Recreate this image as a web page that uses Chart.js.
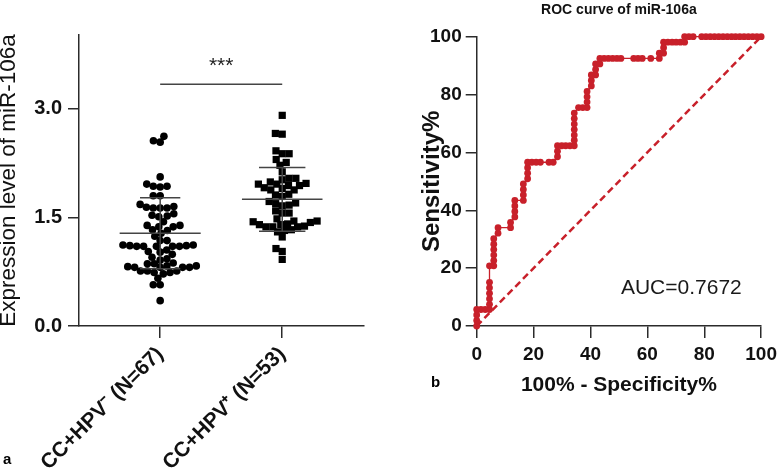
<!DOCTYPE html>
<html><head><meta charset="utf-8">
<script src="https://cdn.jsdelivr.net/npm/chart.js@4"></script>
<style>
html,body{margin:0;padding:0;background:#fff;}
#wrap{position:relative;width:782px;height:472px;overflow:hidden;background:#fff;}
#c1{position:absolute;left:0;top:0;}
#c2{position:absolute;left:390px;top:0;}
</style></head><body>
<div id="wrap">
<canvas id="c1" width="390" height="472"></canvas>
<canvas id="c2" width="392" height="472"></canvas>
</div>
<script>
// ---------- Data: panel a ----------
const groupLabels = ['CC+HPV\u207B (N=67)', 'CC+HPV\u207A (N=53)'];
const hpvNeg = [
  2.62, 2.54, 2.56,
  2.06,
  1.93, 1.92, 1.96, 1.93,
  1.80, 1.80,
  1.68, 1.63, 1.64, 1.63, 1.65, 1.63,
  1.51, 1.55, 1.53, 1.52,
  1.44, 1.39, 1.37, 1.37, 1.39,
  1.28, 1.24, 1.32, 1.33,
  1.10, 1.10, 1.11, 1.11, 1.12, 1.10, 1.10, 1.10, 1.18, 1.18, 1.12,
  1.05, 1.03, 1.02, 0.99,
  0.91, 0.87, 0.86, 0.86, 0.95, 0.93,
  0.81, 0.83, 0.83, 0.81, 0.81, 0.81, 0.82,
  0.72, 0.74, 0.76, 0.76, 0.76, 0.74,
  0.66, 0.57, 0.57,
  0.35
];
const hpvPos = [
  2.91,
  2.65, 2.66,
  2.38, 2.38, 2.42,
  2.30, 2.26, 2.22,
  2.13,
  2.04, 2.02, 2.04,
  1.97, 1.94, 1.96, 1.96, 1.99, 1.91, 1.94,
  1.88, 1.90, 1.88,
  1.79, 1.82, 1.81,
  1.66, 1.67, 1.70, 1.72, 1.69,
  1.56, 1.59, 1.56,
  1.45, 1.44, 1.43, 1.40, 1.48, 1.37, 1.37, 1.37, 1.41, 1.45, 1.38, 1.40,
  1.33, 1.32, 1.30,
  1.23,
  1.03, 1.07, 0.92
];
const groupMeans = [1.28, 1.75];
const groupSDs = [0.49, 0.44];
const leftYTicks = [0, 1.5, 3.0];
const sigLevel = 3.34;
const sigText = '***';

// ---------- Data: panel b (ROC) ----------
const rocFPR = [
  0, 0, 0, 0,
  1.5, 3.0, 4.5,
  4.5, 4.5, 4.5, 4.5, 4.5,
  4.5,
  6.0, 6.0, 6.0, 6.0, 6.0, 6.0,
  7.5, 7.5,
  11.9, 11.9,
  13.4, 13.4, 13.4, 13.4,
  16.4, 16.4, 16.4, 16.4,
  17.9, 17.9, 17.9, 17.9,
  19.4, 20.9, 22.4, 25.4, 26.9,
  28.4, 28.4, 28.4,
  29.9, 31.3, 32.8, 34.3,
  34.3, 34.3, 34.3, 34.3, 34.3, 34.3,
  35.8, 37.3, 38.8,
  38.8, 38.8, 38.8,
  40.3, 40.3, 40.3,
  41.8, 41.8, 41.8,
  43.3, 43.3, 44.8, 46.3, 47.8, 49.3, 50.7,
  55.2, 56.7, 58.2, 61.2, 64.2,
  64.2, 65.7, 65.7,
  65.7, 67.2, 68.7, 70.1, 71.6, 73.1,
  73.1, 74.6, 76.1, 79.1, 80.6, 82.1, 83.6, 85.1, 86.6, 88.1, 89.6, 91.0, 92.5, 94.0, 95.5, 97.0, 98.5, 100
];
const rocTPR = [
  0, 1.9, 3.8, 5.7,
  5.7, 5.7, 5.7,
  7.5, 9.4, 11.3, 13.2, 15.1,
  20.8,
  20.8, 22.6, 24.5, 26.4, 28.3, 30.2,
  32.1, 34.0,
  34.0, 35.8,
  37.7, 39.6, 41.5, 43.4,
  43.4, 45.3, 47.2, 49.1,
  50.9, 52.8, 54.7, 56.6,
  56.6, 56.6, 56.6, 56.6, 56.6,
  58.5, 60.4, 62.3,
  62.3, 62.3, 62.3, 62.3,
  64.2, 66.0, 67.9, 69.8, 71.7, 73.6,
  75.5, 75.5, 75.5,
  77.4, 79.2, 81.1,
  83.0, 84.9, 86.8,
  86.8, 88.7, 90.6,
  90.6, 92.5, 92.5, 92.5, 92.5, 92.5, 92.5,
  92.5, 92.5, 92.5, 92.5, 92.5,
  94.3, 94.3, 96.2,
  98.1, 98.1, 98.1, 98.1, 98.1, 98.1,
  100, 100, 100, 100, 100, 100, 100, 100, 100, 100, 100, 100, 100, 100, 100, 100, 100, 100
];
const refLineX = [0, 100];
const refLineY = [0, 100];
const rocTicks = [0, 20, 40, 60, 80, 100];
const rocTitle = 'ROC curve of miR-106a';
const aucText = 'AUC=0.7672';
const xTitleB = '100% - Specificity%';
const yTitleB = 'Sensitivity%';
const yTitleA = 'Expression level of miR-106a';

// ---------- Styles ----------
const FONT = "'Liberation Sans', Arial, Helvetica, sans-serif";
const AX = '#2b2b2b';
const TXT = '#111';
const RED = '#c8202a';
Chart.defaults.font.family = FONT;
Chart.defaults.color = TXT;

function errorBarData(i, center, meanHalf, capHalf) {
  const m = groupMeans[i], s = groupSDs[i];
  return [
    {x: center - meanHalf, y: m}, {x: center + meanHalf, y: m}, {x: center, y: null},
    {x: center - capHalf, y: m + s}, {x: center + capHalf, y: m + s}, {x: center, y: null},
    {x: center - capHalf, y: m - s}, {x: center + capHalf, y: m - s}, {x: center, y: null},
    {x: center, y: m - s}, {x: center, y: m + s}
  ];
}

const annotA = {
  id: 'annotA',
  afterDatasetsDraw(chart) {
    const {ctx, scales} = chart;
    ctx.save();
    ctx.fillStyle = '#222';
    ctx.font = '21px ' + FONT;
    ctx.textAlign = 'center';
    ctx.textBaseline = 'alphabetic';
    ctx.fillText(sigText, scales.x.getPixelForValue(1.5), scales.y.getPixelForValue(sigLevel) - 12);
    ctx.fillStyle = '#000';
    ctx.font = 'bold 15px ' + FONT;
    ctx.textAlign = 'left';
    ctx.fillText('a', 3, 464);
    ctx.restore();
  }
};

const gridOpts = (len) => ({display: true, drawOnChartArea: false, drawTicks: true, tickLength: len, color: AX, lineWidth: 1.5});
const borderOpts = {display: true, color: AX, width: 1.5};

const chartA = new Chart(document.getElementById('c1'), {
  type: 'scatter',
  data: {
    datasets: [
      {type: 'line', data: errorBarData(0, 1, 0.332, 0.165), borderColor: '#444', borderWidth: 1.5, pointRadius: 0, spanGaps: false, fill: false},
      {type: 'line', data: errorBarData(1, 2, 0.33, 0.19), borderColor: '#444', borderWidth: 1.5, pointRadius: 0, spanGaps: false, fill: false},
      {type: 'line', data: [{x: 1, y: sigLevel}, {x: 2, y: sigLevel}], borderColor: '#444', borderWidth: 1.5, pointRadius: 0, fill: false},
      {label: groupLabels[0], data: hpvNeg.map(v => ({x: 1, y: v})), pointStyle: 'circle', pointRadius: 3.8, backgroundColor: '#000', borderColor: '#000', borderWidth: 0},
      {label: groupLabels[1], data: hpvPos.map(v => ({x: 2, y: v})), pointStyle: 'rect', pointRadius: 5.1, backgroundColor: '#000', borderColor: '#000', borderWidth: 0}
    ]
  },
  options: {
    responsive: false, animation: false, events: [],
    layout: {padding: {top: 35, right: 26, left: 0, bottom: 0}},
    plugins: {legend: {display: false}, tooltip: {enabled: false}},
    scales: {
      x: {
        type: 'linear', min: 0.335, max: 2.67,
        afterBuildTicks: s => { s.ticks = [{value: 1}, {value: 2}]; },
        afterFit: s => { s.height = 146; },
        grid: gridOpts(12), border: borderOpts,
        ticks: {autoSkip: false, minRotation: 45, maxRotation: 45, padding: 4, color: TXT,
          font: {size: 21, weight: 'bold'}, callback: (v, i) => groupLabels[i]}
      },
      y: {
        type: 'linear', min: 0, max: 4.02,
        afterBuildTicks: s => { s.ticks = leftYTicks.map(v => ({value: v})); },
        afterFit: s => { s.width = 79; },
        grid: gridOpts(11), border: borderOpts,
        ticks: {padding: 6, color: TXT, font: {size: 20, weight: 'bold'}, callback: v => Number(v).toFixed(1)},
        title: {display: true, text: yTitleA, color: TXT, font: {size: 22.5, weight: 'normal', lineHeight: 1}, padding: {top: -2, bottom: 0}}
      }
    }
  },
  plugins: [annotA]
});

function swarm(values, center, diam) {
  const xs = chartA.scales.x, ys = chartA.scales.y;
  const cx = xs.getPixelForValue(center);
  const pts = values.map((v, i) => ({i, v, py: ys.getPixelForValue(v)}));
  const order = pts.slice().sort((a, b) => a.v - b.v);
  const placed = [];
  const out = new Array(values.length);
  for (const p of order) {
    const blocked = [];
    for (const q of placed) {
      const dy = p.py - q.py;
      if (Math.abs(dy) < diam) {
        const dx = Math.sqrt(diam * diam - dy * dy);
        blocked.push([q.px - dx, q.px + dx]);
      }
    }
    const cands = [cx];
    blocked.forEach(b => cands.push(b[0], b[1]));
    cands.sort((a, b) => Math.abs(a - cx) - Math.abs(b - cx));
    let px = cx;
    for (const c of cands) {
      if (blocked.every(b => c <= b[0] + 1e-6 || c >= b[1] - 1e-6)) { px = c; break; }
    }
    p.px = px;
    placed.push(p);
    out[p.i] = {x: xs.getValueForPixel(px), y: p.v};
  }
  return out;
}
chartA.data.datasets[3].data = swarm(hpvNeg, 1, 6.9);
chartA.data.datasets[4].data = swarm(hpvPos, 2, 6.9);
chartA.update('none');

// ---------- Panel b ----------
const annotB = {
  id: 'annotB',
  afterDatasetsDraw(chart) {
    const {ctx, chartArea, scales} = chart;
    ctx.save();
    ctx.fillStyle = '#111';
    ctx.font = 'bold 14px ' + FONT;
    ctx.textAlign = 'center';
    ctx.textBaseline = 'middle';
    ctx.fillText(rocTitle, (chartArea.left + chartArea.right) / 2, 10);
    ctx.font = '21px ' + FONT;
    ctx.textAlign = 'left';
    ctx.fillStyle = '#1a1a1a';
    ctx.fillText(aucText, scales.x.getPixelForValue(50.7), scales.y.getPixelForValue(13.1));
    ctx.font = 'bold 15px ' + FONT;
    ctx.fillStyle = '#000';
    ctx.textBaseline = 'alphabetic';
    ctx.fillText('b', 41, 387);
    ctx.restore();
  }
};

const chartB = new Chart(document.getElementById('c2'), {
  type: 'scatter',
  data: {
    datasets: [
      {type: 'line', data: rocFPR.map((x, i) => ({x, y: rocTPR[i]})), borderColor: RED, borderWidth: 1.3,
        pointRadius: 3.4, pointBackgroundColor: RED, pointBorderWidth: 0, fill: false, clip: false, tension: 0},
      {type: 'line', data: refLineX.map((x, i) => ({x, y: refLineY[i]})), borderColor: RED, borderWidth: 2.5,
        borderDash: [7, 4], pointRadius: 0, fill: false, clip: false}
    ]
  },
  options: {
    responsive: false, animation: false, events: [],
    layout: {padding: {top: 36.7, right: 17, left: 0, bottom: 0}},
    plugins: {legend: {display: false}, tooltip: {enabled: false}},
    scales: {
      x: {
        type: 'linear', min: 0, max: 100,
        afterBuildTicks: s => { s.ticks = rocTicks.map(v => ({value: v})); },
        afterFit: s => { s.height = 146; },
        grid: gridOpts(12), border: borderOpts,
        ticks: {autoSkip: false, maxRotation: 0, padding: 5, color: TXT, font: {size: 19, weight: 'bold'}},
        title: {display: true, text: xTitleB, color: TXT, font: {size: 21, weight: 'bold', lineHeight: 1}, padding: {top: 0, bottom: 76}}
      },
      y: {
        type: 'linear', min: 0, max: 100,
        afterBuildTicks: s => { s.ticks = rocTicks.map(v => ({value: v})); },
        afterFit: s => { s.width = 86.7; },
        grid: gridOpts(11), border: borderOpts,
        ticks: {padding: 4, color: TXT, font: {size: 19, weight: 'bold'}},
        title: {display: true, text: yTitleB, color: TXT, font: {size: 24, weight: 'bold', lineHeight: 1}, padding: {top: 30, bottom: 0}}
      }
    }
  },
  plugins: [annotB]
});
</script>
</body></html>
